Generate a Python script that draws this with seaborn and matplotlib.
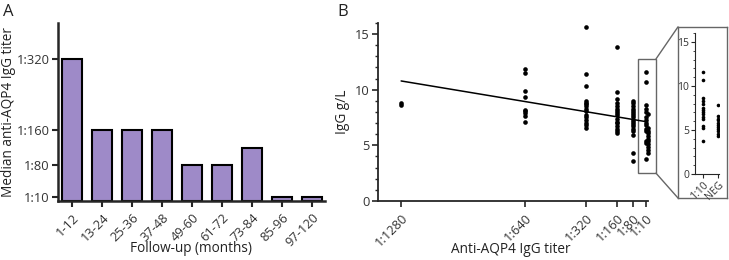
import numpy as np
import pandas as pd
import seaborn as sns
import matplotlib.pyplot as plt
from matplotlib.patches import Rectangle, ConnectionPatch
from matplotlib.ticker import MultipleLocator

sns.set_style("ticks")
plt.rcParams['font.family'] = ['Open Sans', 'DejaVu Sans']

# Panel A: median titer per follow-up period
periods = ["1-12", "13-24", "25-36", "37-48", "49-60", "61-72", "73-84", "85-96", "97-120"]
median_titer = [320, 160, 160, 160, 80, 80, 120, 10, 10]
titer_ticks = [10, 80, 160, 320]
titer_tick_labels = ["1:10", "1:80", "1:160", "1:320"]

# Panel B: IgG g/L by anti-AQP4 titer
igg_1280 = [8.8, 8.6]
igg_640 = [11.9, 11.5, 9.9, 9.3, 8.2, 8.1, 7.9, 7.6, 7.1]
igg_320 = [15.6, 11.4, 10.3, 9.0, 8.8, 8.7, 8.5, 8.3, 8.1, 7.7, 7.5, 7.3, 7.0, 6.8, 6.6]
igg_160 = [13.8, 9.8, 9.2, 8.8, 8.5, 8.3, 8.1, 7.9, 7.7, 7.4, 7.1, 7.0, 6.7, 6.5, 6.3, 6.1]
igg_80 = [9.0, 8.8, 8.5, 8.3, 8.1, 7.9, 7.7, 7.5, 7.3, 7.1, 6.9, 6.7, 6.5, 6.3, 5.9, 4.3, 3.6]
igg_10 = [11.6, 10.7, 8.6, 8.3, 8.0, 7.5, 7.25, 7.0, 6.8, 6.5, 6.3, 5.4, 5.2, 3.8]
igg_neg = [7.8, 6.6, 6.3, 6.1, 5.8, 5.6, 5.35, 5.1, 4.85, 4.6, 4.35]
b_ticks = [1280, 640, 320, 160, 80, 10]
b_tick_labels = ["1:1280", "1:640", "1:320", "1:160", "1:80", "1:10"]

groups = {1280: igg_1280, 640: igg_640, 320: igg_320, 160: igg_160, 80: igg_80, 10: igg_10, 0: igg_neg}
df = pd.DataFrame([(t, v) for t, vals in groups.items() for v in vals], columns=["titer", "igg"])
inset_df = pd.DataFrame({"group": ["1:10"] * len(igg_10) + ["NEG"] * len(igg_neg),
                         "igg": igg_10 + igg_neg})

bar_color = "#9E8AC8"
tick_color = "#333333"
label_size = 9.8
tick_size = 9.3
fig = plt.figure(figsize=(7.29, 2.6), dpi=100)

# ---- panel A
axA = fig.add_axes([0.0796, 0.227, 0.366, 0.683])
sns.barplot(x=periods, y=median_titer, color=bar_color, edgecolor="black",
            linewidth=1.5, width=0.66, saturation=1, ax=axA)
axA.set_ylim(0, 400)
axA.set_xlim(-0.47, 8.43)
axA.set_yticks(titer_ticks)
axA.set_yticklabels(titer_tick_labels)
axA.tick_params(axis="x", rotation=45, labelsize=tick_size, width=1.5, length=4, labelcolor=tick_color)
axA.tick_params(axis="y", labelsize=tick_size, width=1.5, length=4, labelcolor=tick_color, pad=2)
for lbl in axA.get_xticklabels():
    lbl.set_ha("right")
    lbl.set_rotation_mode("anchor")
for s in ["left", "bottom"]:
    axA.spines[s].set_linewidth(1.8)
sns.despine(ax=axA)
axA.set_ylabel("Median anti-AQP4 IgG titer", fontsize=label_size, color="#222222", va="center")
axA.yaxis.set_label_coords(-0.187, 0.5)
axA.set_xlabel("Follow-up (months)", fontsize=label_size, color="#222222", va="center")
axA.xaxis.set_label_coords(0.5, -0.27)
fig.text(0.004, 0.985, "A", fontsize=12, va="top", color="#222222")

# ---- panel B
axB = fig.add_axes([0.5185, 0.227, 0.3705, 0.685])
sns.scatterplot(data=df, x="titer", y="igg", color="black", s=11, linewidth=0,
                ax=axB, clip_on=False)
slope, intercept = np.polyfit(df["titer"], df["igg"], 1)
fit_x = np.array([1280, 10])
axB.plot(fit_x, intercept + slope * fit_x, color="black", lw=1.1)
axB.set_xlim(1400, 0)
axB.set_ylim(0, 16)
axB.set_yticks([0, 5, 10, 15])
axB.yaxis.set_minor_locator(MultipleLocator(1))
axB.set_xticks(b_ticks)
axB.set_xticklabels(b_tick_labels)
axB.tick_params(axis="x", rotation=45, labelsize=tick_size, width=1.2, length=4, labelcolor=tick_color)
axB.tick_params(axis="y", labelsize=tick_size, width=1.2, length=4, labelcolor=tick_color, pad=2)
axB.tick_params(axis="y", which="minor", width=1, length=2.5)
for lbl in axB.get_xticklabels():
    lbl.set_ha("right")
    lbl.set_rotation_mode("anchor")
for s in ["left", "bottom"]:
    axB.spines[s].set_linewidth(1.3)
sns.despine(ax=axB)
axB.set_ylabel("IgG g/L", fontsize=label_size, color="#222222", va="center")
axB.yaxis.set_label_coords(-0.13, 0.5)
axB.set_xlabel("Anti-AQP4 IgG titer", fontsize=label_size, color="#222222", va="center")
axB.xaxis.set_label_coords(0.49, -0.27)
fig.text(0.463, 0.985, "B", fontsize=12, va="top", color="#222222")

# zoom box around the 1:10 / NEG column
box = Rectangle((-41, 2.5), 91, 10.26, fill=False, edgecolor="#666666", lw=1,
                clip_on=False)
axB.add_patch(box)

# ---- inset frame and inset axes
axF = fig.add_axes([0.930, 0.2385, 0.0672, 0.658])
axF.set_xticks([])
axF.set_yticks([])
for s in axF.spines.values():
    s.set_edgecolor("#666666")
    s.set_linewidth(1)
axF.patch.set_alpha(0)

axI = fig.add_axes([0.953, 0.331, 0.033, 0.541])
sns.stripplot(data=inset_df, x="group", y="igg", color="black", size=2.6,
              jitter=False, ax=axI)
axI.set_ylim(0, 16)
axI.set_xlim(-0.55, 1.02)
axI.set_yticks([0, 5, 10, 15])
axI.yaxis.set_minor_locator(MultipleLocator(1))
axI.set_xlabel("")
axI.set_ylabel("")
axI.tick_params(axis="y", labelsize=7.5, width=0.8, length=3, pad=1, labelcolor=tick_color)
axI.tick_params(axis="y", which="minor", width=0.6, length=1.8)
axI.tick_params(axis="x", labelsize=7.5, width=0.8, length=3, rotation=45, pad=1, labelcolor=tick_color)
for lbl in axI.get_xticklabels():
    lbl.set_ha("right")
    lbl.set_rotation_mode("anchor")
for s in ["left", "bottom"]:
    axI.spines[s].set_linewidth(0.8)
sns.despine(ax=axI)

for yA, yB in [(12.76, 1), (2.5, 0)]:
    con = ConnectionPatch(xyA=(-41, yA), coordsA=axB.transData,
                          xyB=(0, yB), coordsB=axF.transAxes,
                          color="#666666", lw=1)
    fig.add_artist(con)

fig.savefig("out.png", dpi=100)
